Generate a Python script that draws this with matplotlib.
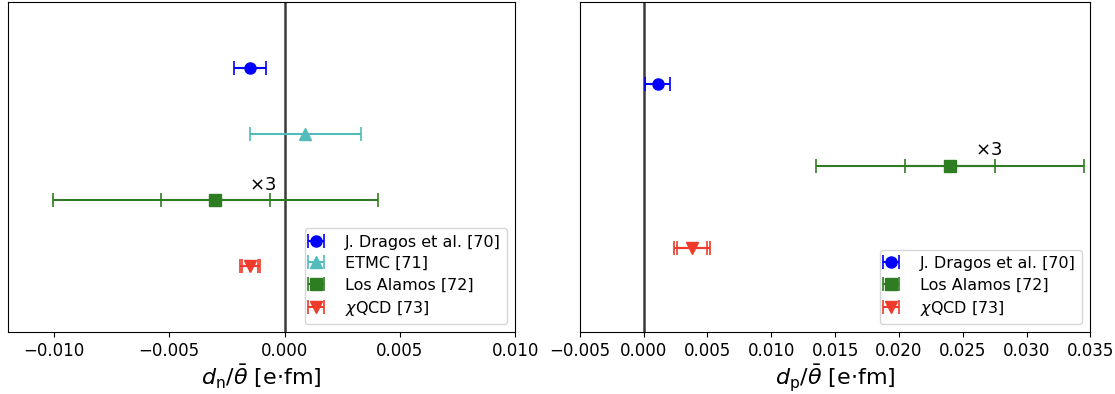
import numpy as np
import matplotlib.pyplot as plt

# neutron EDM / theta-bar
n_labels = ['J. Dragos et al. [70]', 'ETMC [71]', 'Los Alamos [72]', r'$\chi$QCD [73]']
n_vals = [-0.0015, 0.0009, -0.0030, -0.0015]
n_err = [0.0007, 0.0024, 0.00235, 0.00036]
n_err2 = [None, None, 0.00705, 0.00043]   # outer bars (x3 / total)
n_y = [4, 3, 2, 1]

# proton EDM / theta-bar
p_labels = ['J. Dragos et al. [70]', 'Los Alamos [72]', r'$\chi$QCD [73]']
p_vals = [0.0011, 0.0240, 0.0038]
p_err = [0.0010, 0.0035, 0.0012]
p_err2 = [None, 0.0105, 0.0014]
p_y = [3, 2, 1]

colors = {'J. Dragos et al. [70]': '#0000ff', 'ETMC [71]': '#52bcbc',
          'Los Alamos [72]': '#2f7d22', r'$\chi$QCD [73]': '#ee3b2b'}
markers = {'J. Dragos et al. [70]': 'o', 'ETMC [71]': '^',
           'Los Alamos [72]': 's', r'$\chi$QCD [73]': 'v'}

fig = plt.figure(figsize=(11.15, 3.94), dpi=100)
ax1 = fig.add_axes([0.007, 0.157, 0.455, 0.838])
ax2 = fig.add_axes([0.520, 0.157, 0.458, 0.838])

fmt = plt.FuncFormatter(lambda v, p: ('%.3f' % v).replace('-', '\u2212') if abs(v) > 1e-9 else '0.000')


def draw(ax, labels, vals, err, err2, ys):
    for lab, v, e, e2, y in zip(labels, vals, err, err2, ys):
        c = colors[lab]
        if e2 is not None:
            ax.errorbar(v, y, xerr=e2, fmt='none', ecolor=c, capsize=5,
                        elinewidth=1.5, capthick=1.2)
        ax.errorbar(v, y, xerr=e, fmt=markers[lab], color=c, ecolor=c,
                    ms=8, capsize=5, elinewidth=1.5, capthick=1.2, label=lab)
    ax.axvline(0, color='#3a3a3a', lw=1.8, zorder=0)
    ax.set_yticks([])
    ax.tick_params(axis='x', labelsize=12)
    ax.xaxis.set_major_formatter(fmt)
    ax.legend(loc='lower right', fontsize=11.5, handlelength=0.6, markerscale=1.0,
              handletextpad=1.5, borderaxespad=0.5, labelspacing=0.4)


draw(ax1, n_labels, n_vals, n_err, n_err2, n_y)
ax1.set_xlim(-0.012, 0.010)
ax1.set_ylim(0, 5)
ax1.set_xticks([-0.010, -0.005, 0.0, 0.005, 0.010])
ax1.text(-0.00095, 2.23, r'$\times$3', fontsize=13, ha='center', va='center')
ax1.set_xlabel(r'$d_{\rm n}/\bar{\theta}$ [e$\cdot$fm]', fontsize=16, labelpad=2)

draw(ax2, p_labels, p_vals, p_err, p_err2, p_y)
ax2.set_xlim(-0.005, 0.035)
ax2.set_ylim(-0.03, 4.0)
ax2.set_xticks(np.arange(-0.005, 0.0351, 0.005))
ax2.text(0.027, 2.19, r'$\times$3', fontsize=13, ha='center', va='center')
ax2.set_xlabel(r'$d_{\rm p}/\bar{\theta}$ [e$\cdot$fm]', fontsize=16, labelpad=2)

fig.savefig('out.png', dpi=100)
